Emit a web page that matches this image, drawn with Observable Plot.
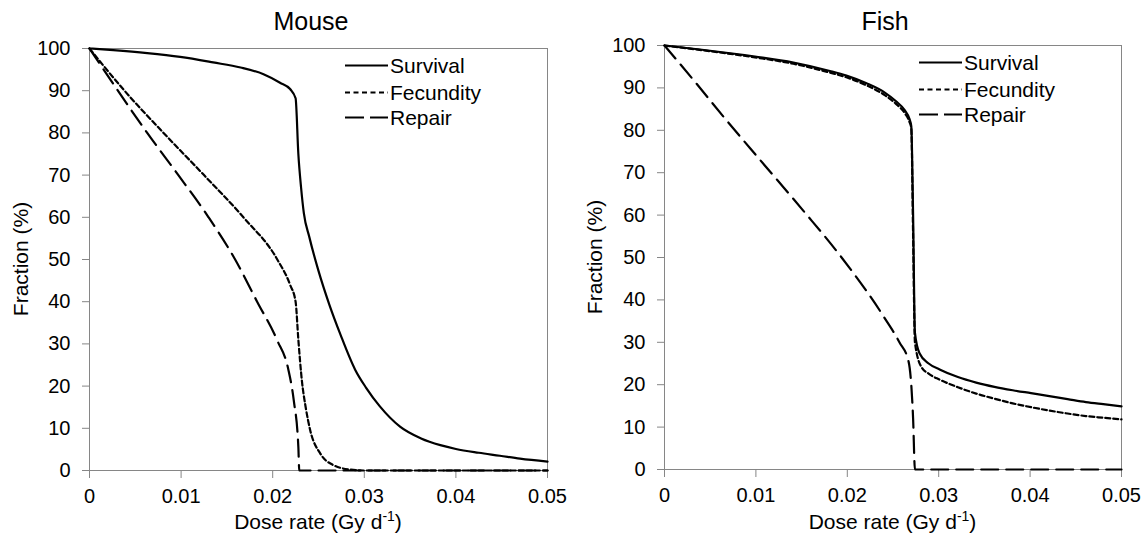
<!DOCTYPE html>
<html><head><meta charset="utf-8">
<script src="https://cdn.jsdelivr.net/npm/d3@7"></script>
<script src="https://cdn.jsdelivr.net/npm/@observablehq/plot@0.6"></script>
<style>
body{margin:0;background:#fff;}
#wrap{position:relative;width:1148px;height:537px;font-family:"Liberation Sans",Arial,sans-serif;background:#fff;}
.panel{position:absolute;top:0;}
#overlay{position:absolute;left:0;top:0;pointer-events:none;}
</style></head><body><div id="wrap"></div>
<script>
// ---- Data ----
const panelTitles = ["Mouse", "Fish"];
const seriesNames = ["Survival", "Fecundity", "Repair"];
const xTicks = [0, 0.01, 0.02, 0.03, 0.04, 0.05];
const yTicks = [0, 10, 20, 30, 40, 50, 60, 70, 80, 90, 100];

const mouseSurvivalX = [0, 0.0026, 0.0063, 0.0099, 0.0135, 0.0165, 0.019, 0.0208, 0.0219, 0.0225, 0.0228, 0.0231, 0.0234, 0.024, 0.025, 0.0262, 0.0274, 0.029, 0.0302, 0.0317, 0.0339, 0.0362, 0.0383, 0.04, 0.0425, 0.0448, 0.047, 0.05];
const mouseSurvivalY = [100, 99.6, 98.9, 98.0, 96.7, 95.5, 93.9, 91.9, 90.4, 88.2, 75, 67, 61, 55.3, 47.3, 39.2, 32.2, 23.9, 19.6, 15.2, 10.4, 7.6, 6.0, 5.1, 4.2, 3.5, 2.8, 2.1];

const mouseFecundityX = [0, 0.0037, 0.0083, 0.0125, 0.0168, 0.0205, 0.0219, 0.0225, 0.0228, 0.0232, 0.0236, 0.0241, 0.0252, 0.0266, 0.0285, 0.03, 0.05];
const mouseFecundityY = [100, 90.3, 79.5, 70, 60, 50, 44, 40, 31, 21, 15, 9.5, 4, 1.3, 0.2, 0, 0];

const mouseRepairX = [0, 0.0031, 0.0063, 0.0097, 0.013, 0.0159, 0.0183, 0.0205, 0.0217, 0.0223, 0.0228, 0.0229, 0.05];
const mouseRepairY = [100, 90, 80, 70, 60, 50, 40, 30.8, 24, 16.6, 5.6, 0, 0];

const fishSurvivalX = [0, 0.0041, 0.0099, 0.0141, 0.0181, 0.0199, 0.0221, 0.0241, 0.0253, 0.0263, 0.0268, 0.027, 0.0272, 0.0274, 0.0279, 0.0289, 0.0301, 0.0321, 0.0341, 0.0361, 0.0381, 0.0401, 0.0421, 0.0441, 0.0461, 0.048, 0.05];
const fishSurvivalY = [100, 99.0, 97.4, 96.0, 94.0, 92.9, 91.1, 88.9, 86.9, 84.7, 82.7, 81, 60, 32.3, 27.4, 25, 23.6, 21.8, 20.5, 19.5, 18.7, 18, 17.3, 16.6, 15.9, 15.4, 14.9];

const fishFecundityX = [0, 0.0041, 0.0099, 0.0141, 0.0181, 0.0199, 0.0221, 0.0241, 0.0253, 0.0263, 0.0268, 0.027, 0.0272, 0.0274, 0.0281, 0.0289, 0.0301, 0.0321, 0.0341, 0.0361, 0.0381, 0.0401, 0.0421, 0.0441, 0.0461, 0.048, 0.05];
const fishFecundityY = [100, 98.9, 97.2, 95.7, 93.6, 92.5, 90.6, 88.3, 86.3, 84.0, 82.0, 80.5, 55, 30, 24.2, 22.6, 21.2, 19.4, 17.9, 16.7, 15.6, 14.7, 13.9, 13.2, 12.6, 12.2, 11.8];

const fishRepairX = [0, 0.0035, 0.0068, 0.0105, 0.0152, 0.0192, 0.024, 0.0257, 0.0267, 0.0272, 0.0274, 0.05];
const fishRepairY = [100, 91, 82.3, 72.9, 61.0, 50.5, 36, 30, 25.5, 12, 0, 0];

// ---- Styling ----
const FONT = '"Liberation Sans", Arial, sans-serif';
const AXIS_GRAY = "#868686";
const dashes = {Survival: null, Fecundity: "5,3", Repair: "17,8"};
const LW = 2.2;

const zip = (xs, ys) => xs.map((x, i) => ({x, y: ys[i]}));

const panels = [
  {title: panelTitles[0], left: 0, mT: 48, mB: 67, mL: 89, mR: 27,
   series: {Survival: zip(mouseSurvivalX, mouseSurvivalY), Fecundity: zip(mouseFecundityX, mouseFecundityY), Repair: zip(mouseRepairX, mouseRepairY)}},
  {title: panelTitles[1], left: 574, mT: 45, mB: 68, mL: 90, mR: 27,
   series: {Survival: zip(fishSurvivalX, fishSurvivalY), Fecundity: zip(fishFecundityX, fishFecundityY), Repair: zip(fishRepairX, fishRepairY)}}
];

const wrap = document.getElementById("wrap");
const W = 574, H = 537;

for (const p of panels) {
  const lineMarks = ["Repair", "Fecundity", "Survival"].map(name =>
    Plot.line(p.series[name], {x: "x", y: "y", stroke: "black", strokeWidth: LW,
      strokeDasharray: dashes[name] || undefined, curve: "monotone-x"}));
  const chart = Plot.plot({
    width: W, height: H,
    marginTop: p.mT, marginBottom: p.mB, marginLeft: p.mL, marginRight: p.mR,
    style: {fontFamily: FONT, fontSize: "20px", color: "black", background: "white"},
    x: {domain: [0, 0.05]},
    y: {domain: [0, 100]},
    marks: [
      Plot.frame({stroke: AXIS_GRAY}),
      Plot.axisX(xTicks, {tickSize: 8, tickPadding: 10, stroke: AXIS_GRAY, fill: "black", fontSize: 20,
        tickFormat: d => String(+d.toFixed(2)), label: null}),
      Plot.axisY(yTicks, {tickSize: 7, tickPadding: 12, stroke: AXIS_GRAY, fill: "black", fontSize: 20, label: null}),
      ...lineMarks
    ]
  });
  const div = document.createElement("div");
  div.className = "panel";
  div.style.left = p.left + "px";
  div.appendChild(chart);
  wrap.appendChild(div);
}

// ---- Overlay: titles, axis labels, legends ----
const NS = "http://www.w3.org/2000/svg";
const ov = document.createElementNS(NS, "svg");
ov.setAttribute("id", "overlay");
ov.setAttribute("width", 1148);
ov.setAttribute("height", 537);
ov.style.fontFamily = FONT;
wrap.appendChild(ov);

function txt(x, y, s, opts = {}) {
  const t = document.createElementNS(NS, "text");
  t.setAttribute("x", x); t.setAttribute("y", y);
  t.setAttribute("font-size", opts.size || 21);
  t.setAttribute("fill", "black");
  if (opts.anchor) t.setAttribute("text-anchor", opts.anchor);
  if (opts.transform) t.setAttribute("transform", opts.transform);
  t.textContent = s;
  ov.appendChild(t);
  return t;
}

panels.forEach((p, i) => {
  const plotL = p.left + p.mL, plotR = p.left + W - p.mR;
  const plotT = p.mT, plotB = H - p.mB;
  const cx = (plotL + plotR) / 2, cy = (plotT + plotB) / 2;
  // title
  txt(p.left + 311, 30, p.title, {size: 25, anchor: "middle"});
  // y label
  txt(0, 0, "Fraction (%)", {anchor: "middle", transform: `translate(${p.left + 28},${cy}) rotate(-90)`});
  // x label with superscript
  const xl = txt(cx, 529, "Dose rate (Gy d", {anchor: "middle"});
  const sup = document.createElementNS(NS, "tspan");
  sup.setAttribute("dy", -8); sup.setAttribute("font-size", 14); sup.textContent = "-1";
  const close = document.createElementNS(NS, "tspan");
  close.setAttribute("dy", 8); close.textContent = ")";
  xl.appendChild(sup); xl.appendChild(close);
  // legend
  const lx1 = p.left + 345, lx2 = p.left + 388, tx = p.left + 390;
  const rows = [17.5, 44.5, 69.5];
  seriesNames.forEach((name, j) => {
    const y = plotT + rows[j];
    const l = document.createElementNS(NS, "line");
    l.setAttribute("x1", lx1); l.setAttribute("x2", lx2);
    l.setAttribute("y1", y); l.setAttribute("y2", y);
    l.setAttribute("stroke", "black"); l.setAttribute("stroke-width", LW);
    if (dashes[name]) l.setAttribute("stroke-dasharray", name === "Repair" ? "19,6" : "5,3.5");
    ov.appendChild(l);
    txt(tx, y + 7.5, name, {size: 21});
  });
});
</script>
</body></html>
